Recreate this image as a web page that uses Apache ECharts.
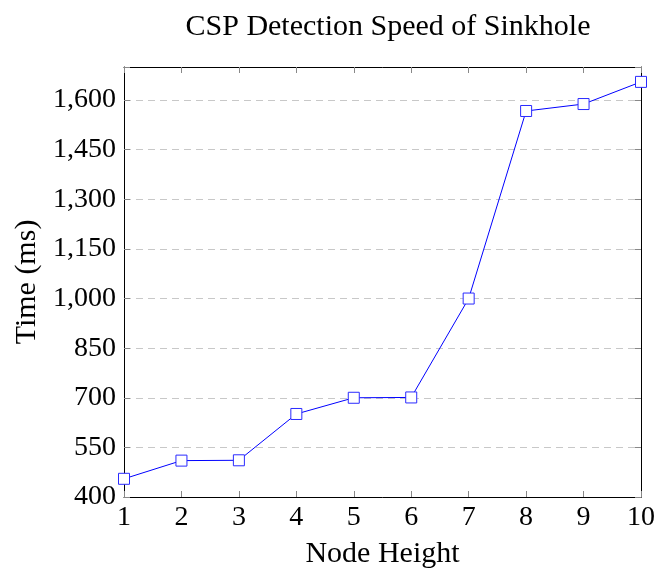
<!DOCTYPE html>
<html>
<head>
<meta charset="utf-8">
<script src="https://cdn.jsdelivr.net/npm/echarts@6/dist/echarts.min.js"></script>
<style>
  html, body { margin: 0; padding: 0; background: #fff; }
  #main { width: 659px; height: 577px; }
</style>
</head>
<body>
<div id="main"></div>
<script>
// node heights along the x axis
var heights = ['1', '2', '3', '4', '5', '6', '7', '8', '9', '10'];
// detection time in ms
var times = [455, 510, 511, 651, 700, 701, 1000, 1567, 1588, 1655];

var fontFam = 'Liberation Serif';
var tickFs = 28;
var nameFs = 30;

function fmt(v) {
    if (v >= 1700) return '';
    return String(v).replace(/\B(?=(\d{3})+(?!\d))/g, ',');
}

var chart = echarts.init(document.getElementById('main'));

var yBase = {
    type: 'value',
    min: 400,
    max: 1700,
    interval: 150,
    axisLine: { show: true, lineStyle: { color: '#000', width: 1 } },
    axisTick: { show: true, inside: true, length: 6, lineStyle: { color: '#888' } }
};

chart.setOption({
    animation: false,
    title: {
        text: 'CSP Detection Speed of Sinkhole',
        left: 383,
        top: 7,
        textAlign: 'center',
        textStyle: { fontFamily: fontFam, fontSize: nameFs, fontWeight: 'normal', color: '#000' }
    },
    grid: { left: 124, right: 18, top: 67, bottom: 80 },
    xAxis: [
        {
            type: 'category',
            data: heights,
            boundaryGap: false,
            name: 'Node Height',
            nameLocation: 'middle',
            nameGap: 42,
            nameTextStyle: { fontFamily: fontFam, fontSize: nameFs, color: '#000' },
            axisLine: { show: true, lineStyle: { color: '#000', width: 1 } },
            axisTick: { show: true, inside: true, length: 6, alignWithLabel: true, lineStyle: { color: '#888' } },
            axisLabel: { fontFamily: fontFam, fontSize: tickFs, color: '#000', margin: 7 },
            splitLine: { show: false }
        },
        {
            type: 'category',
            data: heights,
            boundaryGap: false,
            position: 'top',
            axisLine: { show: true, lineStyle: { color: '#000', width: 1 } },
            axisTick: { show: true, inside: true, length: 6, lineStyle: { color: '#888' } },
            axisLabel: { show: false },
            splitLine: { show: false }
        }
    ],
    yAxis: [
        Object.assign({}, yBase, {
            name: 'Time (ms)',
            nameLocation: 'middle',
            nameGap: 80,
            nameTextStyle: { fontFamily: fontFam, fontSize: nameFs, color: '#000' },
            axisLabel: { fontFamily: fontFam, fontSize: tickFs, color: '#000', margin: 8, formatter: fmt },
            splitLine: { show: true, lineStyle: { color: '#c8c8c8', type: [7, 5], width: 1 } }
        }),
        Object.assign({}, yBase, {
            position: 'right',
            axisLabel: { show: false },
            splitLine: { show: false }
        })
    ],
    series: [{
        type: 'line',
        data: times,
        symbol: 'rect',
        symbolSize: 11,
        lineStyle: { color: '#0000ff', width: 1 },
        itemStyle: { color: '#fff', borderColor: '#2a2aff', borderWidth: 1 }
    }]
});
</script>
</body>
</html>
